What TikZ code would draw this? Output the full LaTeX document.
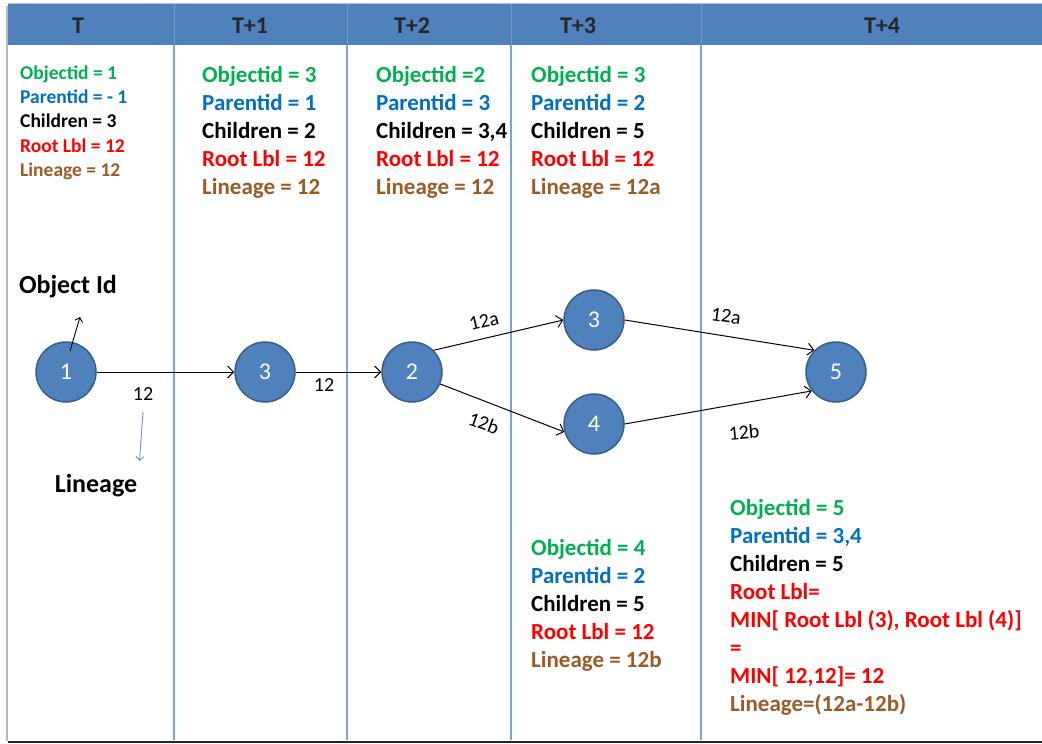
\documentclass[tikz,border=0pt]{standalone}
\usepackage{fontspec}
\setmainfont{Carlito}
\usetikzlibrary{arrows.meta}

\definecolor{hdrblue}{HTML}{4F81BD}
\definecolor{nodeedge}{HTML}{385D8A}
\definecolor{divider}{HTML}{7BA3D6}
\definecolor{oidgreen}{HTML}{00B050}
\definecolor{pidblue}{HTML}{0070C0}
\definecolor{rootred}{HTML}{FF0000}
\definecolor{linbrown}{HTML}{9C5B24}
\definecolor{hdrtext}{HTML}{262626}

\tikzset{
  obj/.style={circle, draw=nodeedge, line width=1.5pt, fill=hdrblue,
    minimum size=60pt, inner sep=0pt, text=white,
    font=\fontsize{24}{28}\selectfont},
  info/.style={anchor=base west, inner sep=0pt,
    font=\bfseries\fontsize{23}{28}\selectfont},
  infosmall/.style={info, font=\bfseries\fontsize{19.5}{24.4}\selectfont},
  hdr/.style={anchor=base, inner sep=0pt, text=hdrtext,
    font=\bfseries\fontsize{24}{28}\selectfont},
  caption/.style={anchor=base, inner sep=0pt,
    font=\bfseries\fontsize{26}{30}\selectfont},
  link/.style={line width=1pt, -{Straight Barb[length=6pt,width=12pt]}},
  elabel/.style={inner sep=0pt, font=\fontsize{20}{24}\selectfont},
  divline/.style={divider, line width=1.3pt},
}

% attribute lines, baseline on the first line
\newcommand{\attrlines}[1]{\begin{tabular}[t]{@{}l@{}}#1\end{tabular}}
\newcommand{\oid}[1]{\textcolor{oidgreen}{#1}}
\newcommand{\pid}[1]{\textcolor{pidblue}{#1}}
\newcommand{\rlbl}[1]{\textcolor{rootred}{#1}}
\newcommand{\lin}[1]{\textcolor{linbrown}{#1}}

\begin{document}
\begin{tikzpicture}[x=1pt,y=-1pt]
  \useasboundingbox (0,0) rectangle (1042,744);

  % frame: header band, left shadow, bottom rule
  \fill[hdrblue] (8,4) rectangle (1042,45);
  \draw[hdrblue!45, line width=1pt] (8,3.5) -- (1042,3.5);
  \draw[gray!55, line width=1.5pt] (7.2,6) -- (7.2,741);
  \draw[black!85, line width=2pt] (8,742) -- (1042,742);

  % column dividers
  \foreach \xd in {174,347,511,701} {
    \draw[hdrblue!80!white, line width=0.8pt] (\xd,4) -- (\xd,45);
    \draw[divline] (\xd,45) -- (\xd,740);
  }

  % time step headers
  \node[hdr] (hT)  at (78,33)  {T};
  \node[hdr] (hT1) at (250,33) {T+1};
  \node[hdr] (hT2) at (412,33) {T+2};
  \node[hdr] (hT3) at (578,33) {T+3};
  \node[hdr] (hT4) at (882,33) {T+4};

  % object attribute blocks
  \node[infosmall] (infoA) at (20,79) {\attrlines{\oid{Objectid = 1}\\ \pid{Parentid = - 1}\\ Children = 3\\ \rlbl{Root Lbl = 12}\\ \lin{Lineage = 12}}};
  \node[info] (infoB) at (202,82) {\attrlines{\oid{Objectid = 3}\\ \pid{Parentid = 1}\\ Children = 2\\ \rlbl{Root Lbl = 12}\\ \lin{Lineage = 12}}};
  \node[info] (infoC) at (376,82) {\attrlines{\oid{Objectid =2}\\ \pid{Parentid = 3}\\ Children = 3,4\\ \rlbl{Root Lbl = 12}\\ \lin{Lineage = 12}}};
  \node[info] (infoD) at (531,82) {\attrlines{\oid{Objectid = 3}\\ \pid{Parentid = 2}\\ Children = 5\\ \rlbl{Root Lbl = 12}\\ \lin{Lineage = 12a}}};
  \node[info] (infoE) at (531,555) {\attrlines{\oid{Objectid = 4}\\ \pid{Parentid = 2}\\ Children = 5\\ \rlbl{Root Lbl = 12}\\ \lin{Lineage = 12b}}};
  \node[info] (infoF) at (730,515) {\attrlines{\oid{Objectid = 5}\\ \pid{Parentid = 3,4}\\ Children = 5\\ \rlbl{Root Lbl=}\\ \rlbl{MIN[ Root Lbl (3), Root Lbl (4)]}\\ \rlbl{=}\\ \rlbl{MIN[ 12,12]= 12}\\ \lin{Lineage=(12a-12b)}}};

  % objects
  \node[obj] (n1)  at (66,372)  {1};
  \node[obj] (n3a) at (265,372) {3};
  \node[obj] (n2)  at (412,372) {2};
  \node[obj] (n3b) at (594,320) {3};
  \node[obj] (n4)  at (594,424) {4};
  \node[obj] (n5)  at (836,372) {5};

  % lineage links
  \draw[link] (n1) -- (n3a);
  \draw[link] (n3a) -- (n2);
  \draw[link] (n2.45) -- (n3b.west);
  \draw[link] (n2.-23) -- (n4.195);
  \draw[link] (n3b.east) -- (n5.135);
  \draw[link] (n4.east) -- (n5.218);

  % link labels
  \node[elabel] (l13)  at (143,394) {12};
  \node[elabel] (l32)  at (324,385) {12};
  \node[elabel, rotate=13]  (l23) at (484,321) {12a};
  \node[elabel, rotate=-20] (l24) at (484,423) {12b};
  \node[elabel, rotate=-8]  (l35) at (726,316) {12a};
  \node[elabel, rotate=5]   (l45) at (744,432) {12b};

  % legend captions
  \node[caption] (capid)  at (68,293)  {Object Id};
  \node[caption] (caplin) at (96,492) {Lineage};
  \coordinate (oidtail) at (70,351);
  \coordinate (oidtip)  at (80,317);
  \draw[line width=0.9pt, -{Straight Barb[length=4pt,width=8pt]}] (oidtail) -- (oidtip);
  \coordinate (lintail) at (143,412);
  \coordinate (lintip)  at (139.5,461);
  \draw[divider!90!blue, line width=0.9pt, -{Straight Barb[length=4pt,width=8pt]}] (lintail) -- (lintip);
\end{tikzpicture}
\end{document}
